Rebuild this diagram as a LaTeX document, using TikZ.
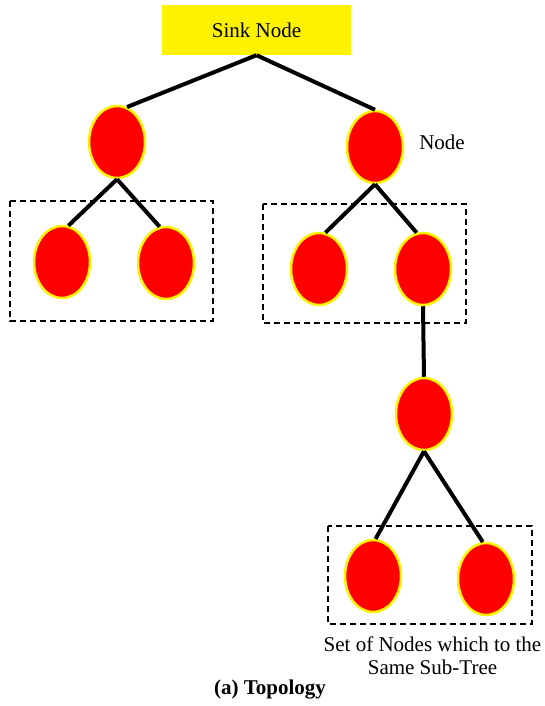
\documentclass[tikz,border=0pt]{standalone}
\usepackage{fontspec}
\setmainfont{Liberation Serif}
\usetikzlibrary{shapes.geometric}
\begin{document}
\begin{tikzpicture}[x=1pt,y=-1pt,
  nd/.style={ellipse,draw=yellow,fill=red,line width=2.5pt,minimum width=56pt,minimum height=72pt,inner sep=0pt},
  lnk/.style={line width=4pt,black},
  grp/.style={draw=black,line width=1.8pt,dash pattern=on 6pt off 4pt},
  lbl/.style={font=\fontsize{21}{23}\selectfont,inner sep=0pt}]
\useasboundingbox (0,0) rectangle (545,706);
\node[fill=yellow,minimum width=189pt,minimum height=50pt,inner sep=0pt,lbl] (sink) at (256.5,30) {Sink Node};
% group boxes
\draw[grp] (10,201) rectangle (213,321);
\draw[grp] (263,204) rectangle (466,323);
\draw[grp] (328,526) rectangle (532,624);
% nodes
\node[nd] (a) at (117,142) {};
\node[nd] (b) at (375,147) {};
\node[nd] (l1) at (62,262) {};
\node[nd] (l2) at (166,263) {};
\node[nd] (r1) at (319,269) {};
\node[nd] (r2) at (423,269) {};
\node[nd] (m) at (424,414) {};
\node[nd] (b1) at (373,576) {};
\node[nd] (b2) at (486,579) {};
% links
\draw[lnk] (sink.south) -- (a.74);
\draw[lnk] (sink.south) -- (b.north);
\draw[lnk] (a.south) -- (l1.80);
\draw[lnk] (a.south) -- (l2.100);
\draw[lnk] (b.south) -- (r1.80);
\draw[lnk] (b.south) -- (r2.100);
\draw[lnk] (r2.south) -- (m.north);
\draw[lnk] (m.south) -- (b1.86);
\draw[lnk] (m.south) -- (b2.95);
% labels
\node[lbl] (nl) at (442,142) {Node};
\node[lbl,align=center] (sl) at (432.5,656) {Set of Nodes which to the\\Same Sub-Tree};
\node[lbl,font=\fontsize{21}{23}\selectfont\bfseries] (cap) at (270,690) {(a) Topology};
\end{tikzpicture}
\end{document}
